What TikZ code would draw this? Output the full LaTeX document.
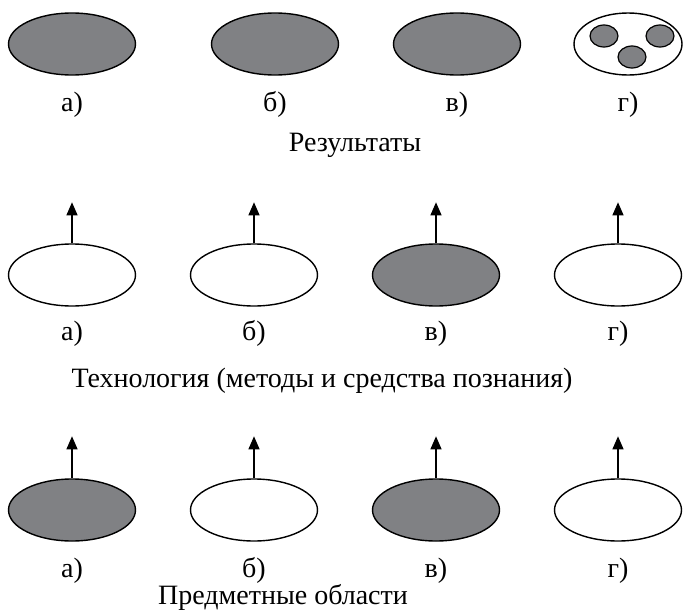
\documentclass[tikz,border=0pt]{standalone}
\usepackage{fontspec}
\setmainfont{Liberation Serif}
\usepackage{tikz}
\usetikzlibrary{shapes.geometric,arrows.meta,positioning}
\definecolor{fillgray}{RGB}{128, 129, 132}
\tikzstyle{full} = [ellipse, draw=black, line width=1.4pt, fill=fillgray, minimum width=127pt, minimum height=62pt, inner sep=0pt]
\tikzstyle{hollow} = [ellipse, draw=black, line width=1.4pt, fill=white, minimum width=127pt, minimum height=62pt, inner sep=0pt]
\tikzstyle{dot} = [ellipse, draw=black, line width=1.2pt, fill=fillgray, minimum width=28pt, minimum height=22pt, inner sep=0pt]
\tikzstyle{lbl} = [font=\fontsize{28}{32}\selectfont, inner sep=0pt]
\tikzstyle{tedge}  = [draw, line width=1.2pt, -{Triangle[width=11pt,length=13pt]}]

\begin{document}
\begin{tikzpicture}[x=1pt, y=-1pt]
\useasboundingbox (0,0) rectangle (696,613);

% results =============================
\node[full] (r1) at (72,44) {};
\node[full] (r2) at (275,44) {};
\node[full] (r3) at (457,44) {};
\node[hollow, minimum width=108pt] (r4) at (628,44) {};
\node[dot] (r4a) at (604,36) {};
\node[dot] (r4b) at (632,57) {};
\node[dot] (r4c) at (660,36) {};

\node[lbl, below=16pt of r1] (lr1) {а)};
\node[lbl, below=16pt of r2] (lr2) {б)};
\node[lbl, below=16pt of r3] (lr3) {в)};
\node[lbl, below=16pt of r4] (lr4) {г)};
\node[lbl] (res) at (355,145) {Результаты};

% technology =============================
\node[hollow] (t1) at (72,275) {};
\node[hollow] (t2) at (254,275) {};
\node[full] (t3) at (436,275) {};
\node[hollow] (t4) at (618,275) {};

\node[lbl, below=14pt of t1] (lt1) {а)};
\node[lbl, below=14pt of t2] (lt2) {б)};
\node[lbl, below=14pt of t3] (lt3) {в)};
\node[lbl, below=14pt of t4] (lt4) {г)};
\node[lbl] (tech) at (322,381) {Технология (методы и средства познания)};

% subject areas =============================
\node[full] (s1) at (72,510) {};
\node[hollow] (s2) at (254,510) {};
\node[full] (s3) at (436,510) {};
\node[hollow] (s4) at (618,510) {};

\node[lbl, below=16pt of s1] (ls1) {а)};
\node[lbl, below=16pt of s2] (ls2) {б)};
\node[lbl, below=16pt of s3] (ls3) {в)};
\node[lbl, below=16pt of s4] (ls4) {г)};
\node[lbl] (subj) at (283,597) {Предметные области};

% arrows
\coordinate[above=41pt of t1.north] (t1up);
\coordinate[above=41pt of t2.north] (t2up);
\coordinate[above=41pt of t3.north] (t3up);
\coordinate[above=41pt of t4.north] (t4up);
\coordinate[above=42pt of s1.north] (s1up);
\coordinate[above=42pt of s2.north] (s2up);
\coordinate[above=42pt of s3.north] (s3up);
\coordinate[above=42pt of s4.north] (s4up);

\path[tedge] (t1.north) -- (t1up);
\path[tedge] (t2.north) -- (t2up);
\path[tedge] (t3.north) -- (t3up);
\path[tedge] (t4.north) -- (t4up);

\path[tedge] (s1.north) -- (s1up);
\path[tedge] (s2.north) -- (s2up);
\path[tedge] (s3.north) -- (s3up);
\path[tedge] (s4.north) -- (s4up);

\end{tikzpicture}
\end{document}
